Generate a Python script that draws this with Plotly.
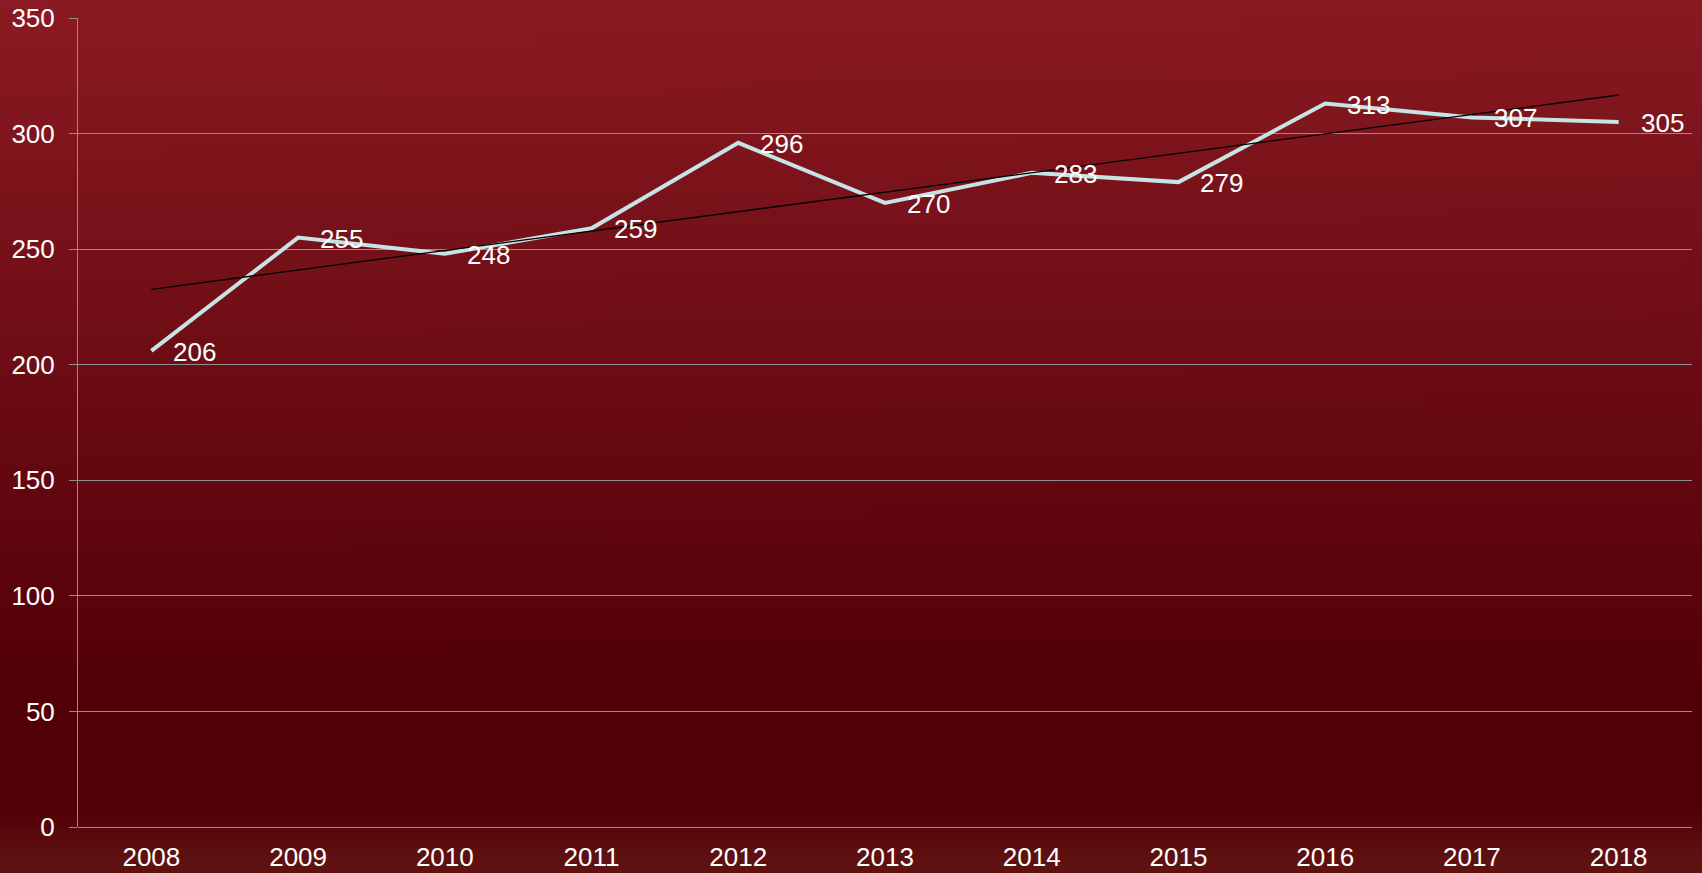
import base64, struct, zlib
import numpy as np
import plotly.graph_objects as go

years = ["2008", "2009", "2010", "2011", "2012", "2013", "2014", "2015", "2016", "2017", "2018"]
values = [206, 255, 248, 259, 296, 270, 283, 279, 313, 307, 305]
y_ticks = [0, 50, 100, 150, 200, 250, 300, 350]

# linear trendline
xi = np.arange(len(values))
slope, intercept = np.polyfit(xi, values, 1)
trend = slope * xi + intercept


def make_png(w, h, fn):
    raw = b""
    for j in range(h):
        row = b"\x00"
        for i in range(w):
            r, g, b = fn(i / (w - 1), j / (h - 1))
            row += bytes((int(r), int(g), int(b)))
        raw += row

    def chunk(t, d):
        c = struct.pack(">I", len(d)) + t + d
        return c + struct.pack(">I", zlib.crc32(t + d) & 0xFFFFFFFF)

    png = b"\x89PNG\r\n\x1a\n"
    png += chunk(b"IHDR", struct.pack(">IIBBBBB", w, h, 8, 2, 0, 0, 0))
    png += chunk(b"IDAT", zlib.compress(raw, 9))
    png += chunk(b"IEND", b"")
    return "data:image/png;base64," + base64.b64encode(png).decode()


def bg(u, v):
    top = np.array([0x8C, 0x1B, 0x23]) * (1 - 0.15 * u) + np.array([0x78, 0x12, 0x1A]) * (0.15 * u)
    bot = np.array([0x52, 0x00, 0x08])
    t = min(1.0, v / 0.8)
    c = top * (1 - t) + bot * t
    if v > 0.92:
        s = min(1.0, (v - 0.92) / 0.06)
        band = np.array([0x5F, 0x13, 0x11])
        c = c * (1 - s) + band * s
    return c


img = make_png(48, 64, bg)

fig = go.Figure()
fig.add_trace(go.Scatter(x=years, y=values, mode="lines",
                         line=dict(color="#C6E4E6", width=4), hoverinfo="skip"))
fig.add_trace(go.Scatter(x=years, y=trend, mode="lines",
                         line=dict(color="#000000", width=1.3), hoverinfo="skip"))

for i, v in enumerate(values):
    fig.add_annotation(x=i, y=v, xref="x", yref="y", text=str(v), showarrow=False,
                       xanchor="left", yanchor="middle", xshift=20, yshift=-1,
                       font=dict(color="white", size=26, family="Liberation Sans, Arial"))

fig.add_layout_image(source=img, xref="paper", yref="paper", x=-0.05, y=1.03,
                     sizex=1.1, sizey=1.1, sizing="stretch", layer="below",
                     xanchor="left", yanchor="top")

fig.update_layout(
    width=1702, height=873,
    margin=dict(l=78, r=10, t=18, b=46, autoexpand=False),
    paper_bgcolor="#6A0A12", plot_bgcolor="rgba(0,0,0,0)",
    showlegend=False,
    font=dict(family="Liberation Sans, Arial", color="white", size=26),
    xaxis=dict(type="category", range=[-0.5, 10.5], showgrid=False,
               showline=False, ticks="", tickfont=dict(size=26, color="white"),
               zeroline=False, automargin=False, ticklabelstandoff=12),
    yaxis=dict(range=[0, 350], tickvals=y_ticks, showgrid=True, gridcolor="#8F8F8F",
               gridwidth=1, showline=True, linecolor="#8F8F8F", linewidth=1,
               ticks="outside", ticklen=8, tickcolor="#8F8F8F",
               tickfont=dict(size=26, color="white"), zeroline=True,
               zerolinecolor="#8F8F8F", zerolinewidth=1, automargin=False,
               ticklabelstandoff=9),
)
fig.write_html("out.html", config={"displayModeBar": False},
               post_script="document.body.style.margin='0';document.body.style.overflow='hidden';")
